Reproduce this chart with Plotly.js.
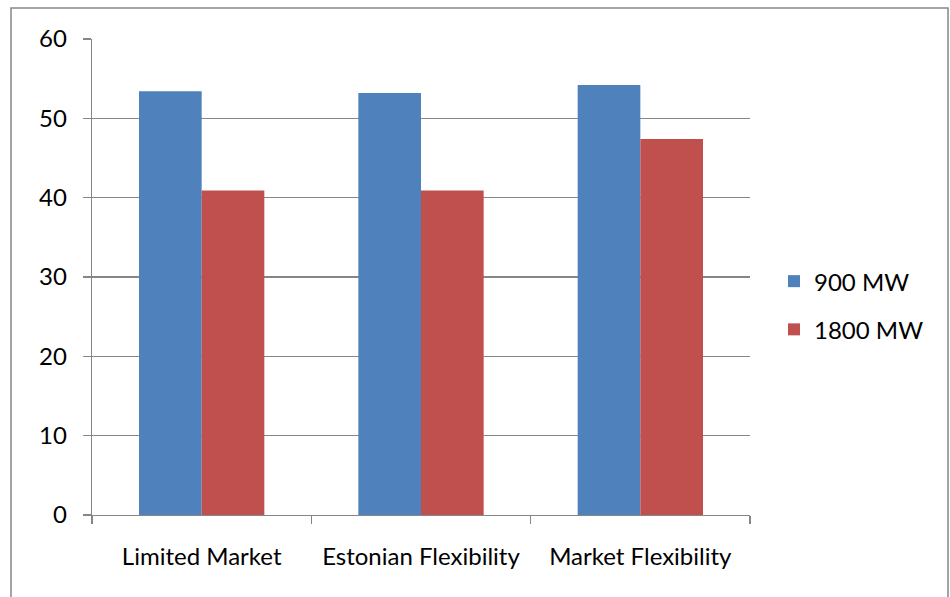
<!DOCTYPE html>
<html>
<head>
<meta charset="utf-8">
<script src="https://cdn.plot.ly/plotly-3.0.1.min.js"></script>
<style>
  html, body { margin: 0; padding: 0; background: #ffffff; }
  #chart { width: 950px; height: 597px; }
</style>
</head>
<body>
<div id="chart"></div>
<script>
// Scenario categories along the x axis
const categories = ["Limited Market", "Estonian Flexibility", "Market Flexibility"];

// Values per interconnection capacity
const series900 = [53.4, 53.2, 54.2];
const series1800 = [40.9, 40.9, 47.4];

const seriesNames = ["900 MW", "1800 MW"];

// Y axis ticks
const yTicks = [0, 10, 20, 30, 40, 50, 60];

const axisGray = "#868686";
const fontFamily = "Lato, 'Open Sans', sans-serif";

const traces = [
  {
    type: "bar",
    name: seriesNames[0],
    x: categories,
    y: series900,
    marker: { color: "#4F81BD" },
    legendgroup: "a",
    hoverinfo: "x+y+name"
  },
  {
    type: "bar",
    name: seriesNames[1],
    x: categories,
    y: series1800,
    marker: { color: "#C0504D" },
    legendgroup: "b",
    hoverinfo: "x+y+name"
  }
];

const layout = {
  width: 950,
  height: 597,
  margin: { l: 92, r: 200, t: 39, b: 82, pad: 0 },
  paper_bgcolor: "#ffffff",
  plot_bgcolor: "#ffffff",
  font: { family: fontFamily, size: 24, color: "#000000" },
  barmode: "group",
  bargap: 0.4286,
  bargroupgap: 0,
  showlegend: true,
  legend: {
    x: 1.0365,
    xanchor: "left",
    y: 0.44,
    yanchor: "middle",
    font: { family: fontFamily, size: 24, color: "#000000" },
    tracegroupgap: 14,
    traceorder: "grouped",
    bgcolor: "rgba(0,0,0,0)"
  },
  xaxis: {
    type: "category",
    showline: true,
    linecolor: axisGray,
    linewidth: 1.3,
    ticks: "outside",
    tickson: "boundaries",
    ticklen: 8,
    tickwidth: 1.3,
    tickcolor: axisGray,
    ticklabelstandoff: 20,
    showgrid: false,
    zeroline: false,
    fixedrange: true
  },
  yaxis: {
    range: [0, 60],
    tickvals: yTicks,
    ticktext: yTicks.map(String),
    showline: true,
    linecolor: axisGray,
    linewidth: 1.3,
    ticks: "outside",
    ticklen: 8,
    tickwidth: 1.3,
    tickcolor: axisGray,
    ticklabelstandoff: 11,
    showgrid: true,
    gridcolor: axisGray,
    gridwidth: 1.3,
    zeroline: false,
    fixedrange: true
  },
  shapes: [
    {
      // outer chart frame
      type: "rect",
      xref: "paper",
      yref: "paper",
      x0: -0.1231,
      x1: 1.3009,
      y0: -0.2,
      y1: 1.0652,
      line: { color: axisGray, width: 1.5 },
      fillcolor: "rgba(0,0,0,0)",
      layer: "below"
    }
  ]
};

Plotly.newPlot("chart", traces, layout, { displayModeBar: false, staticPlot: true });
</script>
</body>
</html>
